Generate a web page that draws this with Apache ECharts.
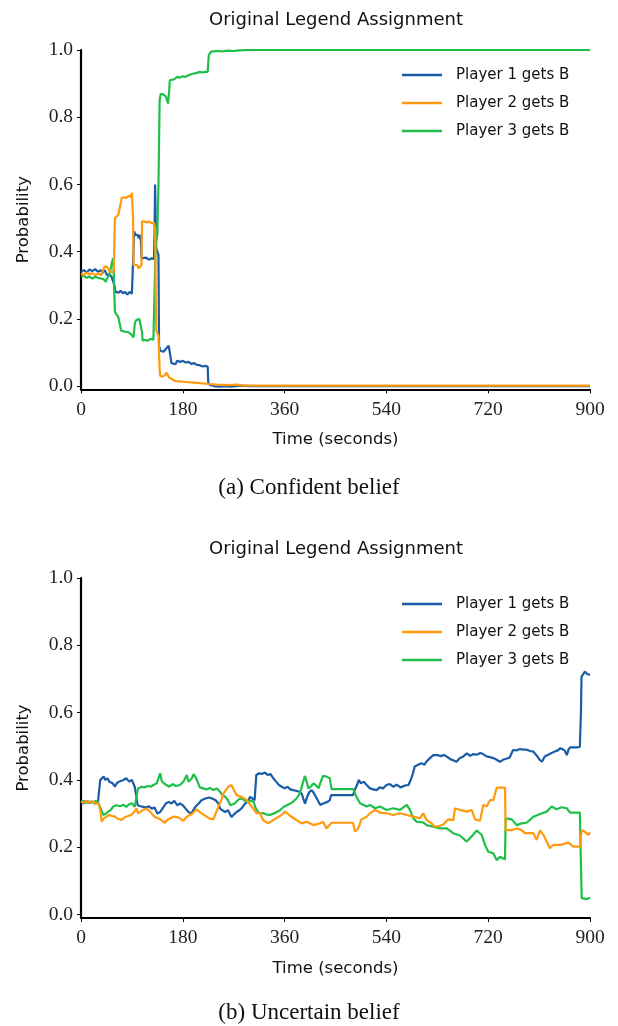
<!DOCTYPE html>
<html>
<head>
<meta charset="utf-8">
<script src="https://cdn.jsdelivr.net/npm/echarts@6/dist/echarts.min.js"></script>
<style>
html,body{margin:0;padding:0;background:#fff;}
#chart{width:618px;height:1026px;}
</style>
</head>
<body>
<div id="chart"></div>
<script>
// ---------- data ----------
var seriesNames = ['Player 1 gets B', 'Player 2 gets B', 'Player 3 gets B'];
var xTicks = [0, 180, 360, 540, 720, 900];
var yTicks = [0, 0.2, 0.4, 0.6, 0.8, 1.0];
var chartTitles = ['Original Legend Assignment', 'Original Legend Assignment'];
var captions = ['(a) Confident belief', '(b) Uncertain belief'];

// (a) Confident belief : [time (s), probability]
var confidentP1 = [[0,0.34],[5,0.345],[10,0.338],[15,0.347],[20,0.342],[25,0.348],[30,0.34],[35,0.345],[38,0.337],[42,0.345],[46,0.33],[50,0.333],[54,0.325],[57,0.32],[59,0.30],[61,0.28],[64,0.285],[67,0.278],[70,0.284],[74,0.276],[78,0.28],[82,0.272],[86,0.28],[90,0.275],[93,0.28],[94,0.46],[96,0.45],[98,0.445],[100,0.45],[102,0.44],[104,0.45],[106,0.43],[107,0.38],[110,0.378],[115,0.382],[120,0.376],[125,0.38],[129,0.378],[130,0.45],[131,0.6],[132,0.5],[133,0.41],[135,0.405],[137,0.39],[138,0.12],[140,0.105],[143,0.108],[146,0.102],[150,0.11],[153,0.106],[155,0.12],[157,0.1],[160,0.068],[163,0.072],[167,0.065],[170,0.075],[175,0.072],[180,0.075],[185,0.07],[190,0.072],[195,0.066],[200,0.068],[205,0.063],[210,0.062],[215,0.058],[220,0.06],[224,0.058],[225,0.01],[228,0.003],[235,0.0],[245,-0.002],[255,0.0],[265,-0.002],[280,0.001],[300,0.0],[900,0.0]];
var confidentP2 = [[0,0.335],[5,0.33],[10,0.338],[15,0.332],[20,0.336],[25,0.33],[30,0.335],[35,0.33],[38,0.34],[40,0.35],[43,0.357],[47,0.352],[50,0.355],[52,0.34],[55,0.335],[58,0.34],[59,0.42],[60,0.5],[63,0.505],[66,0.51],[69,0.515],[71,0.55],[72,0.56],[76,0.562],[80,0.56],[84,0.565],[88,0.563],[90,0.575],[91,0.58],[92,0.5],[93,0.36],[96,0.355],[99,0.36],[102,0.35],[105,0.355],[107,0.36],[108,0.49],[112,0.49],[116,0.487],[120,0.49],[125,0.485],[129,0.485],[131,0.47],[132,0.3],[133,0.165],[135,0.16],[137,0.15],[139,0.05],[140,0.03],[144,0.028],[148,0.032],[151,0.04],[154,0.035],[156,0.025],[160,0.022],[166,0.015],[175,0.014],[185,0.012],[200,0.01],[215,0.008],[225,0.006],[240,0.004],[260,0.003],[275,0.004],[285,0.002],[300,0.001],[900,0.001]];
var confidentP3 = [[0,0.325],[5,0.328],[10,0.322],[15,0.326],[20,0.32],[25,0.325],[30,0.322],[35,0.32],[40,0.318],[44,0.31],[46,0.32],[50,0.33],[53,0.335],[55,0.37],[57,0.38],[58,0.33],[59,0.27],[60,0.22],[63,0.215],[66,0.205],[69,0.2],[71,0.165],[73,0.16],[77,0.162],[80,0.158],[84,0.16],[88,0.155],[91,0.15],[93,0.145],[95,0.185],[97,0.195],[100,0.2],[103,0.2],[106,0.198],[108,0.16],[109,0.135],[113,0.137],[118,0.135],[123,0.14],[128,0.138],[131,0.14],[132,0.42],[135,0.45],[137,0.6],[139,0.85],[141,0.87],[145,0.868],[150,0.862],[152,0.86],[154,0.84],[156,0.88],[157,0.91],[160,0.915],[165,0.913],[170,0.92],[175,0.918],[180,0.922],[185,0.92],[190,0.925],[195,0.928],[200,0.93],[205,0.932],[210,0.935],[215,0.933],[220,0.935],[224,0.935],[226,0.985],[230,0.995],[240,0.997],[250,0.996],[260,0.998],[270,0.997],[280,0.999],[300,1.0],[900,1.0]];

// (b) Uncertain belief : [time (s), probability]
var uncertainP1 = [[0,0.335],[5,0.33],[10,0.338],[15,0.332],[20,0.336],[25,0.33],[30,0.335],[33,0.34],[34,0.40],[37,0.405],[40,0.41],[43,0.40],[47,0.405],[50,0.395],[53,0.40],[56,0.39],[60,0.38],[63,0.39],[67,0.395],[70,0.398],[75,0.40],[80,0.405],[85,0.395],[90,0.40],[95,0.38],[98,0.35],[100,0.325],[105,0.322],[110,0.32],[115,0.318],[120,0.322],[125,0.315],[130,0.318],[135,0.30],[140,0.305],[143,0.31],[146,0.32],[150,0.33],[155,0.335],[160,0.33],[165,0.338],[170,0.325],[175,0.33],[180,0.325],[185,0.315],[190,0.305],[195,0.30],[198,0.305],[202,0.32],[208,0.33],[213,0.34],[220,0.345],[226,0.348],[232,0.345],[238,0.34],[243,0.33],[246,0.315],[250,0.31],[255,0.305],[260,0.31],[266,0.29],[270,0.297],[275,0.305],[280,0.31],[285,0.318],[290,0.33],[295,0.335],[299,0.35],[303,0.345],[307,0.34],[310,0.415],[315,0.42],[320,0.418],[325,0.422],[330,0.415],[335,0.418],[340,0.405],[345,0.395],[350,0.385],[355,0.38],[360,0.375],[365,0.38],[370,0.372],[375,0.37],[380,0.368],[386,0.365],[390,0.36],[394,0.34],[396,0.33],[400,0.35],[404,0.365],[408,0.37],[412,0.36],[417,0.345],[423,0.326],[428,0.33],[431,0.325],[436,0.335],[440,0.34],[442,0.355],[481,0.355],[484,0.37],[488,0.385],[491,0.40],[495,0.39],[500,0.395],[505,0.385],[511,0.375],[517,0.372],[523,0.37],[528,0.378],[534,0.375],[540,0.385],[546,0.388],[552,0.38],[558,0.386],[565,0.378],[572,0.383],[579,0.385],[583,0.40],[587,0.42],[590,0.44],[596,0.445],[602,0.45],[607,0.445],[611,0.455],[617,0.465],[623,0.474],[630,0.474],[636,0.471],[642,0.474],[648,0.468],[653,0.462],[659,0.458],[664,0.454],[670,0.465],[676,0.47],[682,0.479],[688,0.472],[694,0.477],[700,0.475],[706,0.48],[711,0.477],[717,0.47],[723,0.468],[729,0.465],[735,0.46],[741,0.454],[746,0.46],[752,0.463],[758,0.467],[764,0.489],[770,0.488],[776,0.492],[782,0.49],[788,0.49],[794,0.486],[800,0.484],[806,0.472],[811,0.46],[815,0.454],[820,0.47],[826,0.475],[832,0.48],[838,0.485],[843,0.488],[847,0.494],[851,0.492],[855,0.488],[859,0.474],[862,0.49],[865,0.497],[870,0.497],[876,0.497],[882,0.498],[884,0.6],[885,0.707],[888,0.712],[891,0.722],[895,0.715],[900,0.712]];
var uncertainP2 = [[0,0.336],[5,0.332],[10,0.338],[15,0.333],[20,0.336],[25,0.331],[28,0.335],[31,0.33],[34,0.31],[36.5,0.276],[40,0.285],[45,0.291],[50,0.296],[55,0.293],[60,0.291],[66,0.284],[72,0.281],[78,0.29],[84,0.293],[90,0.298],[94,0.305],[98,0.316],[101,0.301],[104,0.305],[110,0.311],[116,0.315],[122,0.306],[130,0.291],[140,0.283],[148.5,0.273],[152,0.281],[163,0.291],[172,0.289],[181,0.279],[187,0.291],[196,0.299],[204.5,0.313],[213,0.301],[222,0.291],[228,0.285],[234,0.283],[243,0.321],[248,0.34],[252,0.36],[260.5,0.38],[266,0.385],[269,0.38],[275,0.355],[284,0.35],[293,0.34],[302,0.32],[310.6,0.301],[316,0.303],[322,0.281],[331,0.271],[340,0.281],[352,0.293],[361,0.306],[370,0.293],[381,0.281],[390,0.271],[399,0.276],[411,0.266],[422,0.271],[428,0.276],[434,0.256],[437,0.258],[443,0.273],[481,0.273],[484.5,0.247],[490,0.256],[496,0.283],[505,0.291],[511,0.301],[520,0.311],[528.7,0.303],[540.5,0.301],[552,0.296],[564,0.301],[576,0.296],[587.6,0.291],[599,0.286],[605,0.301],[611,0.281],[620,0.271],[626,0.261],[635,0.264],[640.7,0.268],[649.5,0.283],[658.4,0.281],[661.3,0.316],[670,0.311],[682,0.306],[690.8,0.311],[696.7,0.283],[705.5,0.279],[711.4,0.326],[717.3,0.321],[723.2,0.34],[729,0.34],[735,0.377],[749.7,0.377],[750.9,0.251],[761.5,0.251],[770.4,0.256],[779,0.251],[785,0.242],[800,0.242],[805.7,0.222],[811.6,0.25],[817.5,0.237],[829,0.197],[835,0.207],[847,0.207],[861.7,0.214],[870.5,0.202],[882,0.202],[885.3,0.251],[891,0.246],[897,0.237],[900,0.244]];
var uncertainP3 = [[0,0.335],[5,0.338],[10,0.332],[15,0.336],[20,0.333],[25,0.337],[30,0.335],[33,0.33],[36,0.31],[39.5,0.296],[44,0.3],[48,0.306],[52,0.31],[57,0.321],[63,0.325],[69,0.322],[75,0.326],[80,0.32],[85,0.328],[90,0.331],[95,0.32],[98,0.35],[101,0.375],[107,0.38],[112,0.378],[118,0.382],[123,0.38],[128,0.385],[134,0.39],[138,0.41],[140,0.42],[143,0.395],[146,0.39],[151,0.385],[156,0.38],[162,0.388],[168,0.382],[175,0.385],[181,0.395],[187,0.415],[190,0.395],[193,0.39],[196,0.405],[199,0.417],[202,0.41],[205,0.40],[210,0.378],[216,0.375],[222,0.372],[228,0.376],[234,0.37],[240,0.375],[246,0.365],[250,0.355],[255,0.35],[260,0.34],[264,0.325],[267,0.32],[272,0.33],[276,0.338],[281,0.345],[287,0.342],[292,0.335],[299,0.338],[305,0.336],[308,0.32],[311,0.31],[316,0.30],[322,0.302],[327,0.298],[334,0.296],[340,0.30],[346,0.305],[352,0.31],[358,0.32],[364,0.325],[370,0.33],[375,0.336],[381,0.345],[387,0.36],[392,0.39],[396,0.412],[399,0.395],[402,0.375],[406,0.38],[411,0.39],[415,0.385],[420,0.375],[424,0.395],[428,0.412],[434,0.41],[440,0.405],[443,0.373],[481.5,0.373],[487,0.35],[493.3,0.331],[505,0.321],[511,0.326],[520,0.316],[528.7,0.321],[540.5,0.311],[552,0.316],[564,0.311],[576,0.326],[581.7,0.311],[587.6,0.286],[593.5,0.276],[605,0.274],[611,0.266],[623,0.261],[635,0.256],[646.6,0.256],[658,0.242],[670,0.235],[682,0.217],[690.8,0.232],[699.6,0.25],[708.5,0.237],[714.4,0.207],[720.2,0.187],[729,0.182],[735,0.162],[741,0.172],[749.7,0.164],[750.9,0.286],[761.5,0.283],[770.4,0.266],[779,0.271],[788,0.273],[800,0.291],[811.6,0.299],[823.4,0.306],[832.2,0.321],[841,0.313],[850,0.319],[858.8,0.316],[864.7,0.303],[882,0.303],[885.3,0.049],[894,0.046],[900,0.051]];

var colors = ['#1a5ca6', '#ff9a0e', '#1ec04a'];

// ---------- chart ----------
var chart = echarts.init(document.getElementById('chart'), null, {renderer: 'canvas'});
var serifFont = '"Liberation Serif", "DejaVu Serif", serif';
var sansFont = '"DejaVu Sans", sans-serif';

function xAxisCfg(gi) {
  return {
    type: 'value', gridIndex: gi, min: 0, max: 900, interval: 180,
    name: 'Time (seconds)', nameLocation: 'middle', nameGap: 42,
    nameTextStyle: {fontFamily: sansFont, fontSize: 16.5, color: '#111'},
    axisLine: {show: true, onZero: false, lineStyle: {color: '#000', width: 2.2}},
    axisTick: {show: true, inside: false, length: 4, lineStyle: {color: '#000', width: 1}, customValues: xTicks},
    axisLabel: {show: true, margin: 10, fontFamily: serifFont, fontSize: 19.5, color: '#222', customValues: xTicks, showMinLabel: true, showMaxLabel: true},
    splitLine: {show: false}
  };
}
function yAxisCfg(gi) {
  return {
    type: 'value', gridIndex: gi, min: -0.01, max: 1.0,
    name: 'Probability', nameLocation: 'middle', nameGap: 49, nameRotate: 90,
    nameTextStyle: {fontFamily: sansFont, fontSize: 16.5, color: '#111'},
    axisLine: {show: true, onZero: false, lineStyle: {color: '#000', width: 2.2}},
    axisTick: {show: true, inside: false, length: 4, lineStyle: {color: '#000', width: 1}, customValues: yTicks},
    axisLabel: {show: true, margin: 8, fontFamily: serifFont, fontSize: 19.5, color: '#222', customValues: yTicks,
      formatter: function (v) { return v.toFixed(1); }},
    splitLine: {show: false}
  };
}
function lineSeries(name, data, gi, ci) {
  return {
    name: name, type: 'line', xAxisIndex: gi, yAxisIndex: gi, data: data,
    showSymbol: false, symbol: 'none', smooth: false,
    lineStyle: {color: colors[ci], width: 2.2},
    itemStyle: {color: colors[ci]}, z: 3 + (ci === 2 ? 0 : ci)
  };
}
function legendCfg(top) {
  return {
    orient: 'vertical', left: 402, top: top, padding: 0, icon: 'rect', itemWidth: 40, itemHeight: 2.5,
    itemGap: 12, data: seriesNames,
    textStyle: {fontFamily: sansFont, fontSize: 15, color: '#111', lineHeight: 16, padding: [0, 0, 0, 9]}
  };
}

var option = {
  animation: false,
  backgroundColor: '#fff',
  grid: [
    {left: 81, top: 50, width: 509, height: 339.4, containLabel: false},
    {left: 81, top: 578, width: 509, height: 340, containLabel: false}
  ],
  xAxis: [xAxisCfg(0), xAxisCfg(1)],
  yAxis: [yAxisCfg(0), yAxisCfg(1)],
  legend: [legendCfg(67), legendCfg(596)],
  graphic: [
    {type: 'text', x: 336, y: 20, style: {text: chartTitles[0], font: '18px ' + sansFont, fill: '#111', textAlign: 'center', textVerticalAlign: 'middle'}},
    {type: 'text', x: 336, y: 549, style: {text: chartTitles[1], font: '18px ' + sansFont, fill: '#111', textAlign: 'center', textVerticalAlign: 'middle'}},
    {type: 'text', x: 309, y: 488, style: {text: captions[0], font: '23px ' + serifFont, fill: '#111', textAlign: 'center', textVerticalAlign: 'middle'}},
    {type: 'text', x: 309, y: 1013, style: {text: captions[1], font: '23px ' + serifFont, fill: '#111', textAlign: 'center', textVerticalAlign: 'middle'}}
  ],
  series: [
    lineSeries(seriesNames[0], confidentP1, 0, 0),
    lineSeries(seriesNames[1], confidentP2, 0, 1),
    lineSeries(seriesNames[2], confidentP3, 0, 2),
    lineSeries(seriesNames[0], uncertainP1, 1, 0),
    lineSeries(seriesNames[1], uncertainP2, 1, 1),
    lineSeries(seriesNames[2], uncertainP3, 1, 2)
  ]
};
chart.setOption(option);
</script>
</body>
</html>
